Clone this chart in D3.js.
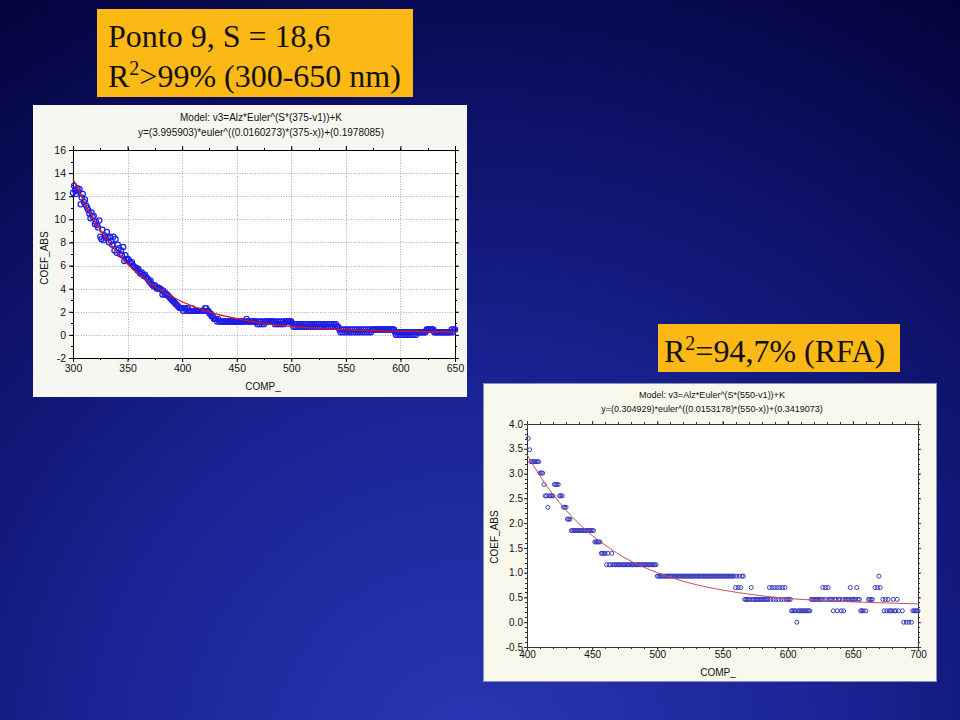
<!DOCTYPE html>
<html><head><meta charset="utf-8">
<script src="https://cdn.jsdelivr.net/npm/d3@7"></script>
<style>html,body{margin:0;padding:0;background:#0a0a40;} svg{display:block}</style>
</head><body><svg id="c" width="960" height="720"></svg>
<script>
// ---------- DATA ----------
// Chart 1 (Ponto 9): COEF_ABS measured at each nm from 300 to 650
const ponto9Comp = d3.range(300, 651);
const ponto9Coef = [
 12.3,12.9,12.5,12.2,12.7,12.4,12.6,11.3,11.9,12.2,
 11.5,11.7,11.2,11.0,10.8,10.5,10.1,10.6,10.2,10.3,
 9.6,9.8,9.5,9.3,9.9,8.5,8.3,9.1,8.2,8.6,
 8.4,8.9,8.4,8.0,8.5,8.1,7.8,8.5,7.3,8.3,
 7.1,7.8,7.5,7.0,7.3,6.9,7.6,6.4,6.9,6.5,
 6.6,6.5,6.3,6.2,6.3,6.0,5.9,5.8,5.8,5.6,
 5.7,5.4,5.3,5.4,5.2,5.1,5.2,5.0,4.9,4.8,
 4.6,4.7,4.4,4.3,4.2,4.3,4.1,4.0,4.1,4.0,
 4.0,3.9,3.5,3.8,3.5,3.6,3.5,3.4,3.3,3.2,
 3.1,3.0,2.9,2.8,2.7,2.6,2.5,2.4,2.32,2.32,
 2.32,2.08,2.32,2.32,2.08,2.32,2.08,2.08,2.08,2.32,
 2.08,2.08,2.08,2.08,2.08,2.08,2.08,2.08,2.08,2.08,
 2.08,2.32,2.32,2.08,2.08,1.85,1.85,1.62,1.62,1.39,
 1.39,1.39,1.16,1.39,1.16,1.16,1.16,1.16,1.16,1.16,
 1.16,1.16,1.16,1.16,1.16,1.16,1.16,1.16,1.16,1.16,
 1.16,1.16,1.16,1.16,1.16,1.16,1.16,1.16,1.16,1.39,
 1.16,1.16,1.16,1.16,1.16,1.16,1.16,1.16,1.16,0.93,
 1.16,0.93,1.16,0.93,1.16,0.93,1.16,1.16,1.16,1.16,
 1.16,1.16,1.16,1.16,1.16,0.93,1.16,0.93,1.16,0.93,
 1.16,0.93,1.16,0.93,1.16,1.16,1.16,1.16,1.16,1.16,
 1.16,0.93,0.70,0.93,0.70,0.93,0.70,0.93,0.70,0.93,
 0.70,0.93,0.70,0.93,0.70,0.93,0.70,0.93,0.70,0.93,
 0.70,0.93,0.70,0.93,0.70,0.93,0.70,0.93,0.70,0.93,
 0.70,0.93,0.70,0.93,0.70,0.93,0.70,0.93,0.70,0.93,
 0.70,0.93,0.70,0.70,0.46,0.23,0.46,0.23,0.46,0.23,
 0.46,0.23,0.46,0.23,0.46,0.23,0.46,0.23,0.46,0.23,
 0.46,0.23,0.46,0.23,0.46,0.23,0.46,0.23,0.46,0.23,
 0.46,0.23,0.46,0.23,0.46,0.46,0.46,0.46,0.46,0.46,
 0.46,0.46,0.46,0.46,0.46,0.46,0.46,0.46,0.46,0.46,
 0.46,0.46,0.46,0.46,0.46,0.23,0.00,0.23,0.00,0.23,
 0.00,0.23,0.00,0.23,0.00,0.23,0.00,0.23,0.00,0.23,
 0.00,0.23,0.00,0.23,0.00,0.23,0.23,0.23,0.23,0.23,
 0.23,0.23,0.23,0.23,0.46,0.46,0.46,0.46,0.46,0.46,
 0.46,0.23,0.23,0.23,0.23,0.23,0.23,0.23,0.23,0.23,
 0.23,0.23,0.23,0.23,0.23,0.23,0.23,0.46,0.23,0.46,
 0.46
];
const ponto9FitComp = [300,312.5,325,337.5,350,362.5,375,387.5,400,412.5,425,450,475,500,525,550,575,600,625,650];
const ponto9FitCoef = [13.49,11.08,9.10,7.49,6.16,5.08,4.19,3.47,2.87,2.39,1.99,1.40,1.00,0.74,0.56,0.44,0.36,0.31,0.27,0.25];

// Chart 2 (RFA): COEF_ABS at each nm from 400 to 700 (null = no point)
const rfaComp = d3.range(400, 701);
const rfaCoef = [
 null,3.71,3.48,3.24,3.24,3.24,3.24,3.24,3.24,3.24,
 3.01,3.01,3.01,2.78,2.55,2.55,2.32,2.55,2.55,2.55,
 2.55,2.78,2.78,2.78,2.78,2.55,2.55,2.55,2.32,2.32,
 2.32,2.08,2.08,2.08,1.85,1.85,1.85,1.85,1.85,1.85,
 1.85,1.85,1.85,1.85,1.85,1.85,1.85,1.85,1.85,1.85,
 1.85,1.85,1.62,1.62,1.62,1.62,1.62,1.39,1.39,1.39,
 1.39,1.16,1.39,1.16,1.16,1.39,1.16,1.16,1.16,1.16,
 1.16,1.16,1.16,1.16,1.16,1.16,1.16,1.16,1.16,1.16,
 1.16,1.16,1.16,1.16,1.16,1.16,1.16,1.16,1.16,1.16,
 1.16,1.16,1.16,1.16,1.16,1.16,1.16,1.16,1.16,1.16,
 0.93,0.93,0.93,0.93,0.93,0.93,0.93,0.93,0.93,0.93,
 0.93,0.93,0.93,0.93,0.93,0.93,0.93,0.93,0.93,0.93,
 0.93,0.93,0.93,0.93,0.93,0.93,0.93,0.93,0.93,0.93,
 0.93,0.93,0.93,0.93,0.93,0.93,0.93,0.93,0.93,0.93,
 0.93,0.93,0.93,0.93,0.93,0.93,0.93,0.93,0.93,0.93,
 0.93,0.93,0.93,0.93,0.93,0.93,0.93,0.93,0.93,0.93,
 0.70,0.93,0.70,0.93,0.70,0.93,0.93,0.46,0.46,0.46,
 0.46,0.46,0.70,0.46,0.46,0.46,0.46,0.46,0.46,0.46,
 0.46,0.46,0.46,0.46,0.46,0.46,0.70,0.46,0.70,0.46,
 0.70,0.46,0.70,0.46,0.70,0.46,0.70,0.46,0.70,0.46,
 0.46,0.46,0.46,0.23,0.23,0.23,0.23,0.00,0.23,0.23,
 0.23,0.23,0.23,0.23,0.23,0.23,0.23,0.23,0.46,0.46,
 0.46,0.46,0.46,0.46,0.46,0.46,0.46,0.70,0.46,0.70,
 0.46,0.70,0.46,0.46,0.46,0.23,0.46,0.46,0.23,0.46,
 0.46,0.23,0.46,0.23,0.46,0.46,0.46,0.46,0.70,0.46,
 0.46,0.46,0.46,0.70,0.46,0.46,0.23,0.23,0.23,null,
 0.23,null,0.46,0.46,0.46,0.46,null,0.70,null,0.70,
 0.93,0.70,null,0.46,0.23,0.46,0.23,0.46,0.23,0.23,
 0.23,0.46,0.23,0.23,0.46,0.23,null,null,0.23,0.00,
 null,0.00,null,0.00,null,0.00,0.23,0.23,0.23,0.23,
 0.23
];
const rfaFitComp = [400,410,425,437.5,450,462.5,475,500,525,550,575,600,625,650,675,700];
const rfaFitCoef = [3.38,2.95,2.41,2.05,1.75,1.51,1.30,1.00,0.79,0.65,0.55,0.48,0.44,0.41,0.39,0.37];

const ponto9XTicks = [300,350,400,450,500,550,600,650];
const ponto9YTicks = [-2,0,2,4,6,8,10,12,14,16];
const rfaXTicks = [400,450,500,550,600,650,700];
const rfaYTicks = [-0.5,0.0,0.5,1.0,1.5,2.0,2.5,3.0,3.5,4.0];

// ---------- DRAW ----------
const svg = d3.select('#c');
const defs = svg.append('defs');
const grad = defs.append('radialGradient').attr('id','bg')
  .attr('gradientUnits','userSpaceOnUse')
  .attr('cx',470).attr('cy',760).attr('r',900);
grad.append('stop').attr('offset','0%').attr('stop-color','#2a36b4');
grad.append('stop').attr('offset','40%').attr('stop-color','#1a2496');
grad.append('stop').attr('offset','75%').attr('stop-color','#0c0f62');
grad.append('stop').attr('offset','100%').attr('stop-color','#03033a');
svg.append('rect').attr('width',960).attr('height',720).attr('fill','url(#bg)');

const SANS = '"Liberation Sans", Arial, sans-serif';
const SERIF = '"Liberation Serif", "Times New Roman", serif';
const hyphen = f => v => f(v).replace('\u2212','-');

function drawChart(o) {
  const g = svg.append('g');
  g.append('rect').attr('x',o.panel.x).attr('y',o.panel.y).attr('width',o.panel.w).attr('height',o.panel.h)
    .attr('fill',o.panel.fill).attr('stroke',o.panel.stroke||'none').attr('stroke-width',1);
  const x = d3.scaleLinear().domain(o.xDomain).range([o.plot.l,o.plot.r]);
  const y = d3.scaleLinear().domain(o.yDomain).range([o.plot.b,o.plot.t]);
  g.append('rect').attr('x',o.plot.l).attr('y',o.plot.t).attr('width',o.plot.r-o.plot.l)
    .attr('height',o.plot.b-o.plot.t).attr('fill','#ffffff');

  if (o.grid) {
    const gg = g.append('g').attr('stroke','#a9a9a9').attr('stroke-width',1).attr('stroke-dasharray','1,1.6');
    o.xTicks.slice(1,-1).forEach(v => gg.append('line').attr('x1',Math.round(x(v))+0.5).attr('x2',Math.round(x(v))+0.5).attr('y1',o.plot.t).attr('y2',o.plot.b));
    o.yTicks.slice(1,-1).forEach(v => gg.append('line').attr('y1',Math.round(y(v))+0.5).attr('y2',Math.round(y(v))+0.5).attr('x1',o.plot.l).attr('x2',o.plot.r));
  }

  // minor ticks
  const mg = g.append('g').attr('stroke',o.axisColor).attr('stroke-width',1);
  const xs = o.xTicks, ys = o.yTicks;
  const dxm = (xs[1]-xs[0])/o.minorX, dym = (ys[1]-ys[0])/o.minorY;
  for (let v = xs[0]; v <= xs[xs.length-1]+1e-9; v += dxm) {
    const px = Math.round(x(v))+0.5;
    mg.append('line').attr('x1',px).attr('x2',px).attr('y1',o.plot.b).attr('y2',o.plot.b+o.minorLen);
    mg.append('line').attr('x1',px).attr('x2',px).attr('y1',o.plot.t).attr('y2',o.plot.t-o.minorLen);
  }
  for (let v = ys[0]; v <= ys[ys.length-1]+1e-9; v += dym) {
    const py = Math.round(y(v))+0.5;
    mg.append('line').attr('y1',py).attr('y2',py).attr('x1',o.plot.l).attr('x2',o.plot.l-o.minorLen);
    mg.append('line').attr('y1',py).attr('y2',py).attr('x1',o.plot.r).attr('x2',o.plot.r+o.minorLen);
  }

  const axB = g.append('g').attr('transform',`translate(0,${o.plot.b})`)
    .call(d3.axisBottom(x).tickValues(xs).tickSize(o.tickLen).tickSizeOuter(0).tickPadding(o.xPad).tickFormat(hyphen(d3.format('d'))));
  const axL = g.append('g').attr('transform',`translate(${o.plot.l},0)`)
    .call(d3.axisLeft(y).tickValues(ys).tickSize(o.tickLen).tickSizeOuter(0).tickPadding(o.yPad).tickFormat(hyphen(o.yFormat)));
  const axT = g.append('g').attr('transform',`translate(0,${o.plot.t})`)
    .call(d3.axisTop(x).tickValues(xs).tickSize(o.tickLen).tickSizeOuter(0).tickFormat(''));
  const axR = g.append('g').attr('transform',`translate(${o.plot.r},0)`)
    .call(d3.axisRight(y).tickValues(ys).tickSize(o.tickLen).tickSizeOuter(0).tickFormat(''));
  [axB,axL,axT,axR].forEach(a => {
    a.selectAll('.domain').attr('stroke',o.axisColor);
    a.selectAll('.tick line').attr('stroke',o.axisColor);
    a.selectAll('text').attr('font-family',SANS).attr('font-size',o.tickFont).attr('fill','#111');
  });

  // points
  const pts = o.comp.map((c,i) => ({c, v:o.coef[i]})).filter(d => d.v !== null);
  g.append('g').selectAll('circle').data(pts).join('circle')
    .attr('cx',d => x(d.c)).attr('cy',d => y(d.v)).attr('r',o.pointR)
    .attr('fill','none').attr('stroke',o.pointColor).attr('stroke-width',o.pointWidth);

  // fit line
  const line = d3.line().x(d => x(d[0])).y(d => y(d[1])).curve(d3.curveMonotoneX);
  g.append('path').datum(o.fitComp.map((c,i) => [c,o.fitCoef[i]]))
    .attr('d',line).attr('fill','none').attr('stroke',o.lineColor).attr('stroke-width',o.lineWidth);

  // titles
  g.append('text').attr('x',o.titleX).attr('y',o.titleY[0]).attr('text-anchor','middle')
    .attr('font-family',SANS).attr('font-size',o.titleFont).attr('fill','#111').text(o.title[0]);
  g.append('text').attr('x',o.titleX).attr('y',o.titleY[1]).attr('text-anchor','middle')
    .attr('font-family',SANS).attr('font-size',o.titleFont).attr('fill','#111').text(o.title[1]);
  g.append('text').attr('x',o.xLabel[0]).attr('y',o.xLabel[1]).attr('text-anchor','middle')
    .attr('font-family',SANS).attr('font-size',o.labelFont).attr('fill','#111').text('COMP_');
  g.append('text').attr('transform',`translate(${o.yLabel[0]},${o.yLabel[1]}) rotate(-90)`).attr('text-anchor','middle')
    .attr('font-family',SANS).attr('font-size',o.labelFont).attr('fill','#111').text('COEF_ABS');
}

drawChart({
  panel:{x:33,y:105,w:434,h:292,fill:'#f7f7f1'},
  plot:{l:73,r:455,t:150,b:358},
  xDomain:[300,650], yDomain:[-2,16],
  xTicks:ponto9XTicks, yTicks:ponto9YTicks, yFormat:d3.format('d'),
  grid:true, minorX:2, minorY:2, minorLen:2, tickLen:4, xPad:3, yPad:3,
  axisColor:'#000', tickFont:10.5,
  comp:ponto9Comp, coef:ponto9Coef, pointR:2.6, pointColor:'#1e1ee6', pointWidth:1.2,
  fitComp:ponto9FitComp, fitCoef:ponto9FitCoef, lineColor:'#d4141e', lineWidth:1.3,
  title:['Model: v3=Alz*Euler^(S*(375-v1))+K','y=(3.995903)*euler^((0.0160273)*(375-x))+(0.1978085)'],
  titleX:261, titleY:[121,136], titleFont:10, labelFont:10,
  xLabel:[263,390], yLabel:[47.5,258]
});

drawChart({
  panel:{x:483.5,y:383.5,w:453,h:298,fill:'#f9f8ec',stroke:'#8a90b4'},
  plot:{l:527,r:918,t:424,b:647},
  xDomain:[400,700], yDomain:[-0.5,4.0],
  xTicks:rfaXTicks, yTicks:rfaYTicks, yFormat:d3.format('.1f'),
  grid:false, minorX:5, minorY:5, minorLen:2, tickLen:3, xPad:1, yPad:1,
  axisColor:'#333', tickFont:10,
  comp:rfaComp, coef:rfaCoef, pointR:2, pointColor:'#3a3ac0', pointWidth:1,
  fitComp:rfaFitComp, fitCoef:rfaFitCoef, lineColor:'#c4505a', lineWidth:1,
  title:['Model: v3=Alz*Euler^(S*(550-v1))+K','y=(0.304929)*euler^((0.0153178)*(550-x))+(0.3419073)'],
  titleX:712, titleY:[397.5,411.5], titleFont:9, labelFont:10,
  xLabel:[718,676], yLabel:[497.5,537]
});

// ---------- title boxes ----------
function box(x0,y0,w,h,lines) {
  const g = svg.append('g');
  g.append('rect').attr('x',x0).attr('y',y0).attr('width',w).attr('height',h).attr('fill','#fcb814');
  lines.forEach(l => {
    const t = g.append('text').attr('x',l.x).attr('y',l.y).attr('font-family',SERIF).attr('font-size',32).attr('fill','#111');
    l.parts.forEach(p => {
      if (p.sup) t.append('tspan').attr('font-size',20).attr('dy',-12).text(p.t);
      else t.append('tspan').attr('dy',p.after ? 12 : 0).text(p.t);
    });
  });
}
box(97,9,316,88,[
  {x:108,y:47,parts:[{t:'Ponto 9, S = 18,6'}]},
  {x:108,y:87,parts:[{t:'R'},{t:'2',sup:true},{t:'>99% (300-650 nm)',after:true}]}
]);
box(658,324,242,48,[
  {x:664,y:362,parts:[{t:'R'},{t:'2',sup:true},{t:'=94,7% (RFA)',after:true}]}
]);
</script>
</body></html>
